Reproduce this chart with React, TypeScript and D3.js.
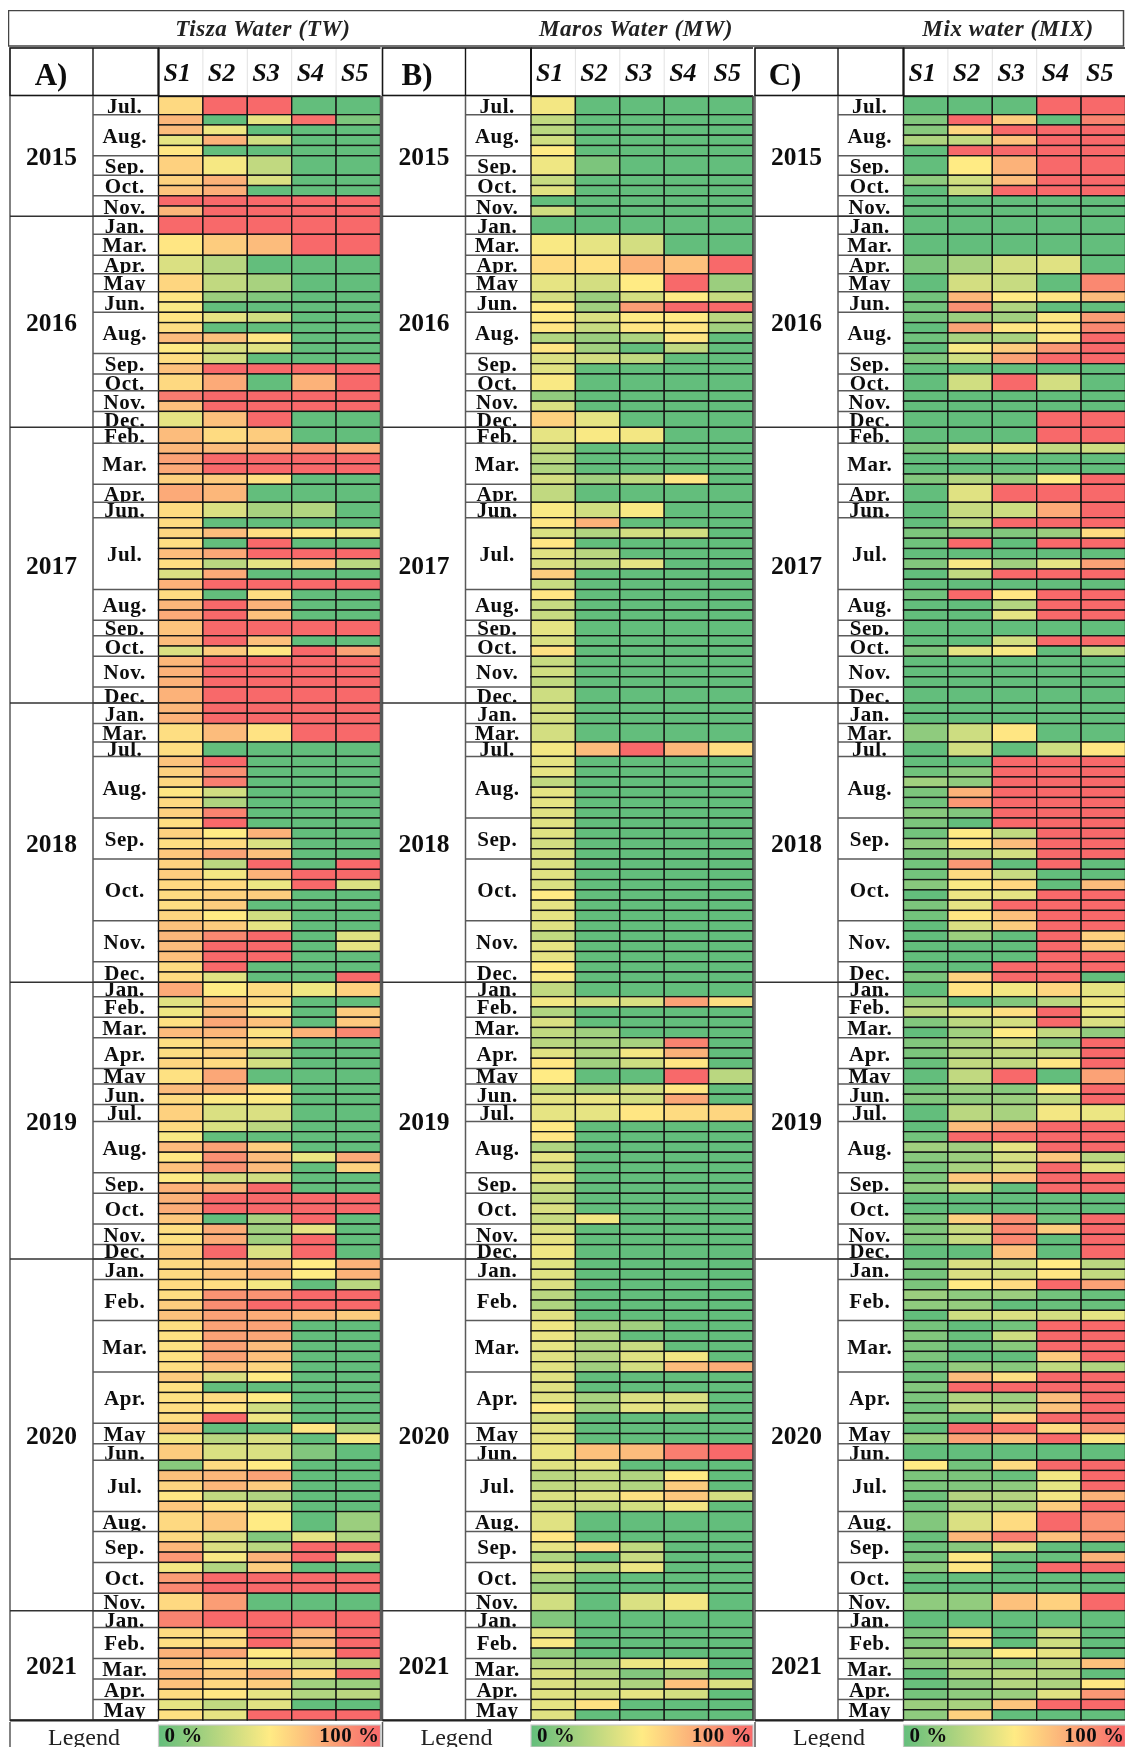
import React from "react";
import * as d3 from "d3";

const sites = ["S1", "S2", "S3", "S4", "S5"];
const titles = ["Tisza Water (TW)", "Maros Water (MW)", "Mix water (MIX)"];
const panelNames = ["A)", "B)", "C)"];
const years = [2015, 2016, 2017, 2018, 2019, 2020, 2021];
const yearMonths = [
  ["Jul.", "Aug.", "Sep.", "Oct.", "Nov."],
  ["Jan.", "Mar.", "Apr.", "May", "Jun.", "Aug.", "Sep.", "Oct.", "Nov.", "Dec."],
  ["Feb.", "Mar.", "Apr.", "Jun.", "Jul.", "Aug.", "Sep.", "Oct.", "Nov.", "Dec."],
  ["Jan.", "Mar.", "Jul.", "Aug.", "Sep.", "Oct.", "Nov.", "Dec."],
  ["Jan.", "Feb.", "Mar.", "Apr.", "May", "Jun.", "Jul.", "Aug.", "Sep.", "Oct.", "Nov.", "Dec."],
  ["Jan.", "Feb.", "Mar.", "Apr.", "May", "Jun.", "Jul.", "Aug.", "Sep.", "Oct.", "Nov."],
  ["Jan.", "Feb.", "Mar.", "Apr.", "May"],
];
const yearRowCounts = [
  [1, 4, 1, 2, 2],
  [1, 1, 1, 1, 2, 4, 2, 1, 2, 1],
  [1, 4, 1, 1, 7, 3, 1, 2, 3, 1],
  [2, 1, 1, 6, 4, 6, 4, 2],
  [1, 2, 2, 3, 1, 2, 1, 5, 2, 3, 2, 1],
  [2, 4, 5, 5, 2, 1, 5, 1, 3, 3, 1],
  [1, 3, 2, 2, 2],
];
// relative row thickness for months that occupy a single thick row (1 = ordinary row)
const yearRowThickness = [
  [1.77, 1, 1.9, 1, 1],
  [1.75, 2.05, 1.8, 1.75, 1, 1, 1, 1.65, 1, 1.55],
  [1.55, 1, 1.75, 1.5, 1, 1, 1.5, 1, 1, 1.55],
  [1, 1.8, 1.4, 1, 1, 1, 1, 1],
  [1.4, 1, 1, 1, 1.5, 1, 1.65, 1, 1, 1, 1, 1.4],
  [1, 1, 1, 1, 1, 1.6, 1, 1.95, 1, 1, 1.7],
  [1.65, 1, 1, 1, 1],
];

const tiszaValues = [
  [57,100,100,0,0],[70,0,42,97,8],[68,45,0,0,0],[42,72,35,0,0],[52,0,0,0,0],[60,47,30,0,0],[60,72,38,0,0],[65,73,0,0,0],[100,100,100,100,100],[70,100,100,100,100],
  [100,100,100,100,100],[52,62,68,100,100],[38,27,0,0,0],[58,30,22,0,0],[52,18,10,0,0],[48,0,0,0,0],[52,42,35,0,0],[55,0,0,0,0],[68,66,52,0,0],[50,38,40,0,0],[55,35,0,0,0],[66,100,100,100,100],[57,75,0,72,100],[93,100,100,100,100],[66,100,100,100,100],[42,66,100,0,0],
  [68,56,62,0,0],[70,68,68,78,70],[78,100,100,100,100],[75,100,100,100,100],[60,62,54,0,0],[75,70,0,0,0],[56,38,22,25,0],[56,0,0,0,0],[58,68,55,52,45],[55,0,100,0,0],[68,76,100,100,100],[55,28,42,62,28],[38,75,0,0,0],[72,100,100,100,100],[56,0,55,0,0],[70,100,72,0,0],[75,100,66,0,0],[65,100,100,100,100],[68,100,66,0,0],[38,62,52,100,78],[70,100,100,100,100],[72,100,100,100,100],[72,100,100,100,100],[72,100,100,100,100],
  [70,100,100,100,100],[72,100,100,100,100],[55,68,53,100,100],[55,0,0,0,0],[65,100,0,0,0],[60,85,0,0,0],[58,92,0,0,0],[52,35,0,0,0],[57,24,0,0,0],[60,90,0,0,0],[55,100,0,0,0],[60,50,72,0,0],[55,56,38,0,0],[64,78,66,0,0],[60,28,100,0,100],[62,46,72,100,100],[57,56,44,100,38],[56,60,62,0,0],[55,62,0,0,0],[58,50,35,0,0],[66,62,42,0,0],[70,88,100,0,40],[68,100,100,0,42],[66,100,100,0,0],[56,100,0,0,0],[56,40,0,0,100],
  [75,50,56,45,60],[40,66,56,0,0],[45,68,48,0,62],[54,76,66,0,63],[68,70,54,72,88],[55,62,56,0,0],[55,60,30,0,0],[58,56,36,0,0],[54,76,0,0,0],[68,70,54,0,0],[56,50,50,0,0],[60,38,38,0,0],[56,38,28,0,0],[48,0,0,0,0],[68,78,62,0,0],[52,85,68,44,75],[66,84,68,0,60],[50,36,35,0,0],[72,72,100,0,0],[72,100,100,100,100],[74,100,100,100,100],[64,0,22,100,0],[55,74,20,42,0],[54,74,20,100,0],[62,100,38,100,0],
  [57,63,68,50,72],[57,65,70,50,72],[56,55,46,0,28],[55,84,84,100,100],[62,86,100,100,100],[66,78,74,68,62],[55,78,78,0,0],[54,78,76,0,0],[54,78,68,0,0],[54,78,66,0,0],[55,66,58,0,0],[62,38,50,0,0],[54,0,0,0,0],[54,56,50,0,0],[55,52,35,0,0],[55,100,45,0,0],[66,0,0,52,18],[46,28,38,0,48],[62,38,38,10,0],[12,56,50,0,0],[66,70,78,0,0],[58,70,62,0,0],[52,30,25,0,0],[64,54,40,0,0],[57,64,50,0,18],[57,38,10,42,25],[70,38,28,100,100],[82,48,72,100,38],[46,25,62,0,0],[80,100,100,100,100],[88,100,100,100,100],[57,80,0,0,0],
  [90,100,100,100,100],[56,56,100,70,100],[55,56,100,68,100],[72,76,50,60,100],[66,56,45,35,28],[70,63,72,58,100],[66,58,62,20,18],[56,52,42,25,28],[42,30,40,0,0],[54,42,100,100,100],
];

const marosValues = [
  [46,0,0,0,0],[30,0,0,0,0],[28,0,0,0,0],[35,0,0,0,0],[50,0,0,0,0],[45,8,0,0,0],[32,0,0,0,0],[40,0,0,0,0],[0,0,0,0,0],[35,0,0,0,0],
  [0,0,0,0,0],[48,42,36,0,0],[56,54,72,66,100],[42,36,50,100,18],[36,18,36,50,32],[50,20,80,100,100],[50,38,50,50,28],[52,32,52,52,20],[25,18,24,52,0],[52,20,0,30,0],[38,36,30,0,0],[40,0,0,0,0],[48,0,0,0,0],[15,0,0,0,0],[38,0,0,0,0],[60,42,0,0,0],
  [42,48,46,0,0],[32,0,0,0,0],[28,0,0,0,0],[25,0,0,0,0],[36,20,30,52,0],[30,0,0,0,0],[48,35,48,0,0],[52,72,0,0,0],[38,25,36,35,0],[52,0,0,0,0],[40,28,0,0,0],[38,28,42,0,0],[62,0,0,0,0],[32,0,0,0,0],[52,0,0,0,0],[32,0,0,0,0],[32,0,0,0,0],[42,0,0,0,0],[38,0,0,0,0],[54,0,0,0,0],[32,0,0,0,0],[35,0,0,0,0],[30,0,0,0,0],[34,0,0,0,0],
  [36,0,0,0,0],[36,0,0,0,0],[36,0,0,0,0],[46,68,100,70,55],[42,0,0,0,0],[42,0,0,0,0],[30,0,0,0,0],[42,0,0,0,0],[42,0,0,0,0],[40,0,0,0,0],[40,0,0,0,0],[40,0,0,0,0],[36,0,0,0,0],[38,0,0,0,0],[38,0,0,0,0],[40,0,0,0,0],[38,0,0,0,0],[50,0,0,0,0],[42,0,0,0,0],[42,0,0,0,0],[40,0,0,0,0],[30,0,0,0,0],[42,0,0,0,0],[42,0,0,0,0],[50,0,0,0,0],[48,0,0,0,0],
  [30,0,0,0,0],[46,38,38,78,55],[25,0,0,0,0],[38,0,0,0,0],[30,20,0,0,0],[28,22,22,90,0],[40,25,46,72,0],[52,20,34,52,0],[50,0,0,100,28],[32,22,35,52,0],[42,44,36,76,0],[42,42,52,56,58],[50,0,0,0,0],[52,0,0,0,0],[25,0,0,0,0],[42,0,0,0,0],[36,0,0,0,0],[42,0,0,0,0],[32,0,0,0,0],[30,0,0,0,0],[38,0,0,0,0],[32,46,0,0,0],[38,0,0,0,0],[42,0,0,0,0],[45,0,0,0,0],
  [40,0,0,0,0],[40,0,0,0,0],[38,0,0,0,0],[28,0,0,0,0],[24,0,0,0,0],[40,0,0,0,0],[45,22,20,0,0],[44,24,0,0,0],[42,24,32,0,0],[40,26,40,46,0],[40,20,36,68,74],[40,0,0,0,0],[40,0,0,0,0],[40,22,38,38,0],[50,22,42,38,0],[36,0,0,0,0],[42,0,0,0,0],[42,0,0,0,0],[44,66,68,92,100],[40,42,0,0,0],[28,30,25,50,0],[30,30,25,62,0],[38,40,54,64,36],[35,30,36,46,0],[40,0,0,0,0],[52,0,0,0,0],[42,56,30,0,0],[25,0,32,0,0],[42,30,44,0,0],[25,0,0,0,0],[18,0,0,0,0],[35,0,38,46,0],
  [10,0,0,0,0],[42,0,0,0,0],[48,0,0,0,0],[15,0,0,0,0],[28,22,44,46,0],[38,25,10,20,0],[38,32,24,66,38],[40,36,42,36,0],[42,54,0,0,0],[40,0,0,0,0],
];

const mixValues = [
  [0,0,0,100,100],[10,100,62,0,90],[12,58,100,100,100],[24,30,66,100,100],[0,100,100,100,100],[0,50,72,100,100],[14,35,68,100,100],[0,32,100,100,100],[0,0,0,0,0],[0,0,0,0,0],
  [0,0,0,0,0],[0,0,0,0,0],[8,22,36,40,0],[0,36,32,0,88],[5,70,50,52,68],[5,85,25,0,0],[6,18,20,52,80],[0,78,52,52,88],[4,22,22,52,100],[0,48,62,82,100],[10,35,78,100,100],[0,0,0,0,0],[0,35,100,36,0],[0,0,0,0,0],[0,0,0,0,0],[0,0,0,100,100],
  [0,0,0,100,100],[8,38,40,30,34],[0,0,0,0,0],[0,0,0,0,0],[10,26,18,50,100],[0,40,100,100,100],[0,32,34,75,100],[0,28,100,100,100],[8,10,10,18,56],[4,100,0,100,100],[0,0,0,0,0],[10,48,20,42,78],[0,30,100,100,100],[0,0,0,0,0],[4,100,52,100,100],[0,0,26,100,100],[0,0,42,100,100],[0,0,0,0,0],[0,0,36,100,100],[8,42,48,0,30],[0,0,0,0,0],[0,0,0,0,0],[0,0,0,0,0],[0,0,0,0,0],
  [0,0,0,0,0],[0,0,0,0,0],[14,34,52,0,0],[0,35,0,34,52],[0,0,100,100,100],[4,14,100,100,100],[20,14,100,100,100],[8,72,100,100,100],[5,82,100,100,100],[12,10,100,100,100],[8,0,100,100,100],[5,50,30,100,100],[14,52,68,100,100],[8,25,36,100,100],[5,82,0,100,0],[5,56,32,0,0],[12,48,58,0,68],[0,44,42,100,100],[8,42,100,100,100],[5,52,66,100,100],[0,38,62,100,100],[0,18,0,100,60],[0,0,0,100,62],[0,0,0,100,100],[0,0,100,100,100],[8,60,100,100,0],
  [0,53,46,58,42],[20,0,10,28,45],[30,42,55,100,44],[10,28,36,100,38],[0,20,50,30,15],[10,24,35,14,100],[8,26,30,32,100],[2,30,30,52,100],[0,30,100,0,78],[6,18,12,50,100],[10,15,18,30,100],[0,28,22,46,44],[0,68,78,100,100],[5,100,100,100,100],[20,20,42,100,100],[12,18,36,64,28],[8,22,36,100,40],[10,64,66,100,100],[14,36,0,100,100],[0,0,0,0,0],[0,0,0,0,0],[8,60,85,4,100],[10,32,88,62,100],[10,32,88,0,100],[0,0,66,0,100],
  [6,38,36,50,28],[6,38,36,52,30],[8,50,56,100,78],[18,14,18,5,2],[14,16,0,2,2],[0,34,38,36,42],[6,0,5,100,100],[10,2,34,100,100],[8,2,12,100,100],[8,0,0,62,100],[4,16,12,30,25],[4,68,55,100,100],[10,100,100,100,100],[8,24,18,68,100],[4,30,26,66,100],[10,5,58,100,100],[0,100,100,56,85],[18,78,66,100,52],[0,0,0,0,0],[50,5,56,100,100],[8,8,2,46,100],[8,10,14,42,100],[4,26,26,46,72],[5,22,24,62,100],[10,38,56,100,85],[2,70,92,66,82],[4,12,42,0,0],[6,52,3,2,72],[14,52,0,100,100],[0,0,0,0,0],[0,0,0,0,0],[14,15,66,60,100],
  [0,0,0,0,0],[8,54,0,36,0],[10,52,0,34,0],[16,18,50,42,0],[12,24,15,30,66],[2,22,28,24,0],[2,14,26,24,52],[6,14,18,40,82],[18,22,65,100,100],[14,60,0,0,0],
];

const panelValues = [tiszaValues, marosValues, mixValues];

const W = 1125, H = 1747;
const serif = "'Liberation Serif','Times New Roman',serif";
const color = d3.scaleLinear<string>().domain([0, 50, 100]).range(["#63BE7B", "#FFEB84", "#F8696B"]);

// Row layout derived from the month tables
type Row = { start: number; weight: number };
const rows: Row[] = [];
type Month = { label: string; start: number; end: number };
const months: Month[] = [];
const yearSpans: { year: number; start: number; end: number }[] = [];
let cum = 0;
years.forEach((yr, yi) => {
  const ys = cum;
  yearMonths[yi].forEach((label, mi) => {
    const ms = cum;
    for (let k = 0; k < yearRowCounts[yi][mi]; k++) {
      rows.push({ start: cum, weight: yearRowThickness[yi][mi] });
      cum += yearRowThickness[yi][mi];
    }
    months.push({ label, start: ms, end: cum });
  });
  yearSpans.push({ year: yr, start: ys, end: cum });
});
const y = d3.scaleLinear().domain([0, cum]).range([96.5, 1720]);

const panelLeft = d3.scaleOrdinal<number, number>().domain([0, 1, 2]).range([10, 382.5, 755]);
const panelLabelCentre = d3.scaleOrdinal<number, number>().domain([0, 1, 2]).range([51, 417, 785]);
const yearColW = 83, monthColW = 65.5, heatW = 222;
const LINE = "#151515";
const GREY = "#5a5a5a";

function Panel({ index }: { index: number }) {
  const left = panelLeft(index);
  const monthX = left + yearColW;
  const heatX = monthX + monthColW;
  const x = d3.scaleBand<string>().domain(sites).range([heatX, heatX + heatW]);
  const vals = panelValues[index];
  return (
    <g>
      <defs>
        {months.map((m, i) => (
          <clipPath id={`clip-${index}-${i}`} key={i}>
            <rect x={monthX} y={y(m.start)} width={monthColW} height={y(m.end) - y(m.start) - 0.5} />
          </clipPath>
        ))}
      </defs>
      {/* header */}
      <rect x={left} y={48} width={heatX - left} height={47.5} fill="#fff" stroke={LINE} strokeWidth={1.6} />
      <line x1={monthX} x2={monthX} y1={48} y2={96} stroke={LINE} strokeWidth={1.4} />
      <line x1={heatX} x2={heatX} y1={48} y2={96} stroke={LINE} strokeWidth={2} />
      <line x1={heatX} x2={heatX + heatW} y1={96} y2={96} stroke={LINE} strokeWidth={1.6} />
      <line x1={heatX} x2={heatX + heatW} y1={48} y2={48} stroke={LINE} strokeWidth={1.6} />
      <text x={panelLabelCentre(index)} y={85} textAnchor="middle" fontFamily={serif} fontWeight="bold" fontSize={31} fill="#111">{panelNames[index]}</text>
      {sites.map((s, si) => (
        <g key={s}>
          {si > 0 && <line x1={x(s)} x2={x(s)} y1={49} y2={95} stroke="#e2e2e2" strokeWidth={1} />}
          <text x={x(s)! + x.bandwidth() / 2 - 3.5} y={81} textAnchor="middle" fontFamily={serif} fontWeight="bold" fontStyle="italic" fontSize={26} fill="#111">{s}</text>
        </g>
      ))}
      {/* heat cells */}
      {rows.map((r, ri) =>
        sites.map((s, si) => (
          <rect key={`${ri}-${si}`} x={x(s)} y={y(r.start)} width={x.bandwidth()} height={y(r.start + r.weight) - y(r.start)}
            fill={color(vals[ri][si])} stroke={LINE} strokeWidth={1.35} />
        ))
      )}
      {/* month column */}
      {months.map((m, i) => {
        const t = y(m.start), b = y(m.end);
        const base = Math.min((t + b) / 2 + 7.5, b - 0.5);
        return (
          <g key={i}>
            <text clipPath={`url(#clip-${index}-${i})`} x={monthX + monthColW / 2 - 1} y={base} textAnchor="middle"
              fontFamily={serif} fontWeight="bold" fontSize={21} letterSpacing={0.5} fill="#111">{m.label}</text>
            <line x1={monthX} x2={heatX} y1={b} y2={b} stroke={GREY} strokeWidth={1.5} />
          </g>
        );
      })}
      {/* year column */}
      <line x1={left} x2={left} y1={96} y2={1721} stroke={GREY} strokeWidth={1.5} />
      <line x1={monthX} x2={monthX} y1={96} y2={1721} stroke={GREY} strokeWidth={1.5} />
      <line x1={heatX + heatW + 0.5} x2={heatX + heatW + 0.5} y1={96} y2={1721} stroke={GREY} strokeWidth={2} />
      {yearSpans.map((ys) => (
        <g key={ys.year}>
          <text x={left + 41.5} y={(y(ys.start) + y(ys.end)) / 2 + 9} textAnchor="middle" fontFamily={serif} fontWeight="bold" fontSize={25.5} fill="#111">{ys.year}</text>
          <line x1={left} x2={heatX} y1={y(ys.end)} y2={y(ys.end)} stroke="#333" strokeWidth={1.5} />
        </g>
      ))}
      {/* legend */}
      <line x1={left} x2={left} y1={1722} y2={H} stroke={GREY} strokeWidth={1.5} />
      <line x1={left} x2={heatX} y1={1720.5} y2={1720.5} stroke="#222" strokeWidth={2} />
      <text x={left + 74} y={1744.5} textAnchor="middle" fontFamily={serif} fontSize={24} fill="#222">Legend</text>
      <rect x={heatX} y={1725} width={heatW} height={22} fill="url(#legendGrad)" stroke="#c8c8c8" strokeWidth={1.2} />
      <text x={heatX + 6} y={1742} fontFamily={serif} fontWeight="bold" fontSize={21} letterSpacing={0.5} fill="#111">0 %</text>
      <text x={heatX + heatW - 1} y={1742} textAnchor="end" fontFamily={serif} fontWeight="bold" fontSize={21} letterSpacing={0.5} fill="#111">100 %</text>
    </g>
  );
}

export default function App() {
  const gradStops = [0, 50, 100];
  const titleCentres = d3.scaleOrdinal<number, number>().domain([0, 1, 2]).range([263, 636, 1008]);
  return (
    <svg width={W} height={H} viewBox={`0 0 ${W} ${H}`} style={{ position: "absolute", left: 0, top: 0, display: "block", background: "#fff" }}>
      <defs>
        <linearGradient id="legendGrad" x1="0" x2="1" y1="0" y2="0">
          {gradStops.map((s) => <stop key={s} offset={`${s}%`} stopColor={color(s)} />)}
        </linearGradient>
        <filter id="soft" x="0" y="0" width="100%" height="100%">
          <feGaussianBlur stdDeviation="0.5" />
        </filter>
      </defs>
      <g filter="url(#soft)">
        <rect x={8.5} y={10.5} width={1115} height={35.5} fill="#fff" stroke="#444" strokeWidth={1.5} />
        {titles.map((t, i) => (
          <text key={t} x={titleCentres(i)} y={36} textAnchor="middle" fontFamily={serif} fontStyle="italic" fontWeight="bold" fontSize={23} letterSpacing={0.6} fill="#222">{t}</text>
        ))}
        {panelNames.map((_, i) => <Panel key={i} index={i} />)}
      </g>
    </svg>
  );
}
